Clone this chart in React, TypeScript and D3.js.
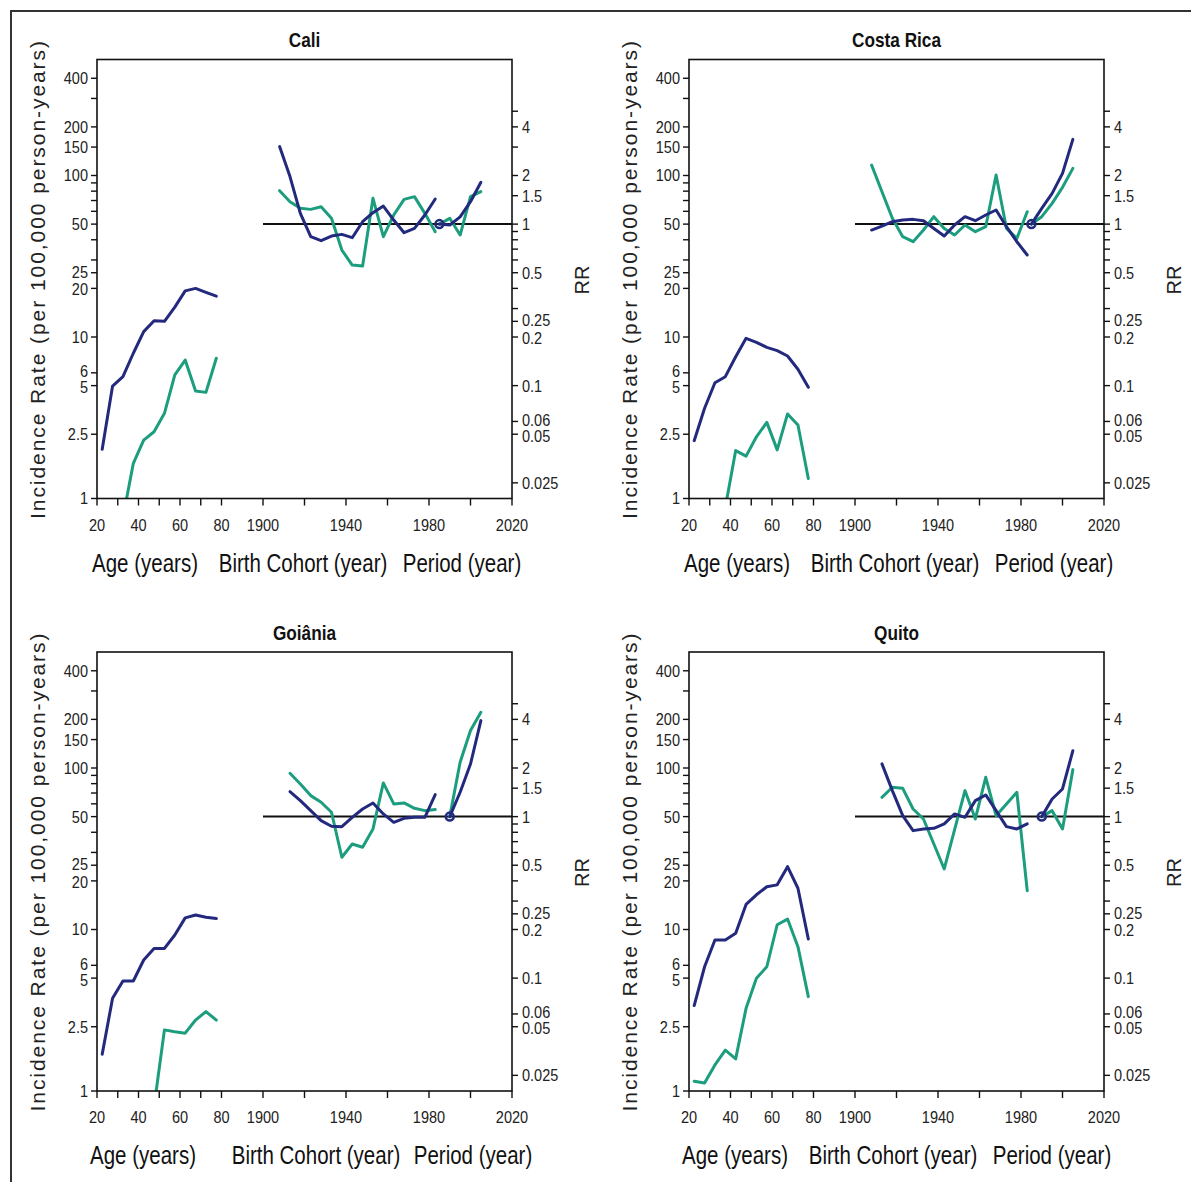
import React from "react";
import * as d3 from "d3";

// ---------- data ----------
const AGES = [22.5, 27.5, 32.5, 37.5, 42.5, 47.5, 52.5, 57.5, 62.5, 67.5, 72.5, 77.5];
const COHORTS_A = [1908, 1913, 1918, 1923, 1928, 1933, 1938, 1943, 1948, 1953, 1958, 1963, 1968, 1973, 1978, 1983];
const COHORTS_B = [1913, 1918, 1923, 1928, 1933, 1938, 1943, 1948, 1953, 1958, 1963, 1968, 1973, 1978, 1983];
const PERIODS_A = [1985, 1990, 1995, 2000, 2005];
const PERIODS_B = [1990, 1995, 2000, 2005];

const caliAgeBlue = [2.02, 4.97, 5.68, 7.93, 10.8, 12.6, 12.5, 15.3, 19.3, 20.0, 18.9, 17.9];
const caliAgeGreen = [null, null, 0.76, 1.65, 2.3, 2.59, 3.37, 5.82, 7.2, 4.63, 4.54, 7.38];
const caliCohortBlue = [3.02, 1.97, 1.166, 0.836, 0.79, 0.844, 0.864, 0.824, 1.035, 1.177, 1.294, 1.06, 0.885, 0.94, 1.139, 1.43];
const caliCohortGreen = [1.61, 1.377, 1.252, 1.234, 1.282, 1.086, 0.691, 0.558, 0.55, 1.444, 0.836, 1.139, 1.423, 1.479, 1.166, 0.898];
const caliPeriodBlue = [1, 0.986, 1.11, 1.377, 1.815];
const caliPeriodGreen = [1, 1.086, 0.856, 1.479, 1.588];

const costaAgeBlue = [2.28, 3.62, 5.21, 5.68, 7.55, 9.82, 9.27, 8.63, 8.23, 7.63, 6.31, 4.88];
const costaAgeGreen = [null, null, null, 0.88, 1.98, 1.83, 2.41, 2.96, 2.0, 3.34, 2.85, 1.33];
const costaCohortBlue = [0.919, 0.973, 1.035, 1.06, 1.07, 1.05, 0.94, 0.844, 0.987, 1.112, 1.05, 1.139, 1.223, 0.964, 0.778, 0.644];
const costaCohortGreen = [2.32, 1.588, 1.086, 0.836, 0.778, 0.919, 1.112, 0.94, 0.856, 0.987, 0.898, 0.964, 2.014, 0.94, 0.816, 1.194];
const costaPeriodBlue = [1, 1.252, 1.55, 2.062, 3.35];
const costaPeriodGreen = [1, 1.112, 1.345, 1.69, 2.214];

const goianiaAgeBlue = [1.69, 3.75, 4.8, 4.8, 6.47, 7.64, 7.64, 9.25, 11.8, 12.3, 11.9, 11.7];
const goianiaAgeGreen = [null, null, null, null, null, 0.8, 2.39, 2.33, 2.28, 2.75, 3.1, 2.75];
const goianiaCohortBlue = [1.428, 1.256, 1.089, 0.944, 0.871, 0.867, 0.99, 1.115, 1.215, 1.039, 0.922, 0.976, 0.99, 0.99, 1.368];
const goianiaCohortGreen = [1.855, 1.593, 1.349, 1.227, 1.064, 0.56, 0.677, 0.646, 0.839, 1.616, 1.198, 1.215, 1.126, 1.089, 1.105];
const goianiaPeriodBlue = [1, 1.415, 2.118, 3.93];
const goianiaPeriodGreen = [1, 2.17, 3.41, 4.43];

const quitoAgeBlue = [3.38, 5.88, 8.61, 8.61, 9.47, 14.3, 16.4, 18.4, 18.9, 24.5, 18.0, 8.73];
const quitoAgeGreen = [1.15, 1.12, 1.45, 1.79, 1.58, 3.25, 4.99, 5.88, 10.7, 11.6, 7.83, 3.84];
const quitoCohortBlue = [2.12, 1.449, 1.014, 0.819, 0.839, 0.847, 0.901, 1.039, 0.99, 1.256, 1.362, 1.089, 0.867, 0.839, 0.901];
const quitoCohortGreen = [1.317, 1.519, 1.497, 1.115, 0.967, 0.677, 0.474, 0.831, 1.449, 0.967, 1.752, 1.014, 1.198, 1.415, 0.348];
const quitoPeriodBlue = [1, 1.286, 1.483, 2.56];
const quitoPeriodGreen = [1, 1.089, 0.839, 1.954];

const LEFT_TICKS = [1, 2.5, 5, 6, 10, 20, 25, 30, 40, 50, 60, 70, 80, 90, 100, 150, 200, 300, 400];
const LEFT_LABELS = [1, 2.5, 5, 6, 10, 20, 25, 50, 100, 150, 200, 400];
const RR_TICKS = [0.025, 0.05, 0.06, 0.1, 0.2, 0.25, 0.3, 0.4, 0.5, 0.6, 0.7, 0.8, 0.9, 1, 1.5, 2, 3, 4, 5];
const RR_LABELS = [0.025, 0.05, 0.06, 0.1, 0.2, 0.25, 0.5, 1, 1.5, 2, 4];
const AGE_TICKS = [20, 30, 40, 50, 60, 70, 80];
const AGE_LABELS = [20, 40, 60, 80];
const YEAR_TICKS = [1900, 1920, 1940, 1960, 1980, 2000, 2020];
const YEAR_LABELS = [1900, 1940, 1980, 2020];
const RR_REF = 50; // rate corresponding to RR = 1
const YEAR_OFFSET = 1800; // years share the x axis with ages

// small vertical nudges for crowded tick labels (layout only)
const LABEL_NUDGE: Record<string, number> = { "6": -1.5, "5": 1.5, "25": -1, "20": 1, "0.06": -1.5, "0.05": 1.5, "0.25": -1, "0.2": 1 };

const BLUE = "#23297d";
const GREEN = "#1c9e7e";
const SANS = "'Liberation Sans', Arial, sans-serif";

type PanelSpec = {
  id: string;
  title: string;
  dx: number;
  dy: number;
  cohorts: number[];
  periods: number[];
  ageBlue: (number | null)[];
  ageGreen: (number | null)[];
  cohortBlue: number[];
  cohortGreen: number[];
  periodBlue: number[];
  periodGreen: number[];
  labelX: [number, number, number];
};

const PANELS: PanelSpec[] = [
  { id: "cali", title: "Cali", dx: 0, dy: 0, cohorts: COHORTS_A, periods: PERIODS_A,
    ageBlue: caliAgeBlue, ageGreen: caliAgeGreen, cohortBlue: caliCohortBlue, cohortGreen: caliCohortGreen,
    periodBlue: caliPeriodBlue, periodGreen: caliPeriodGreen, labelX: [145, 303, 462] },
  { id: "costa", title: "Costa Rica", dx: 592, dy: 0, cohorts: COHORTS_A, periods: PERIODS_A,
    ageBlue: costaAgeBlue, ageGreen: costaAgeGreen, cohortBlue: costaCohortBlue, cohortGreen: costaCohortGreen,
    periodBlue: costaPeriodBlue, periodGreen: costaPeriodGreen, labelX: [145, 303, 462] },
  { id: "goiania", title: "Goiânia", dx: 0, dy: 592.5, cohorts: COHORTS_B, periods: PERIODS_B,
    ageBlue: goianiaAgeBlue, ageGreen: goianiaAgeGreen, cohortBlue: goianiaCohortBlue, cohortGreen: goianiaCohortGreen,
    periodBlue: goianiaPeriodBlue, periodGreen: goianiaPeriodGreen, labelX: [143, 316, 473] },
  { id: "quito", title: "Quito", dx: 592, dy: 592.5, cohorts: COHORTS_B, periods: PERIODS_B,
    ageBlue: quitoAgeBlue, ageGreen: quitoAgeGreen, cohortBlue: quitoCohortBlue, cohortGreen: quitoCohortGreen,
    periodBlue: quitoPeriodBlue, periodGreen: quitoPeriodGreen, labelX: [143, 301, 460] },
];

// ---------- geometry ----------
const X0 = 97, X1 = 512, Y0 = 59.5, Y1 = 498.5;
const DECADE = 161.5;
const YTOP = Math.pow(10, (Y1 - Y0) / DECADE);

const fmt = (v: number) => String(v);
const nudge = (v: number) => LABEL_NUDGE[fmt(v)] || 0;

// condensed text: regular sans squeezed horizontally
function NText(props: {
  x: number; y: number; size: number; anchor?: string; bold?: boolean; fill?: string; dy?: string;
  squeeze?: number; children: React.ReactNode;
}) {
  const { x, y, size, anchor = "middle", bold = false, fill = "#222", dy, squeeze = 0.82, children } = props;
  return (
    <text
      transform={`translate(${x},${y}) scale(${squeeze},1)`}
      textAnchor={anchor}
      dy={dy}
      fontFamily={SANS}
      fontWeight={bold ? "bold" : "normal"}
      fontSize={size}
      fill={fill}
    >
      {children}
    </text>
  );
}

function Panel({ p }: { p: PanelSpec }) {
  const x = d3.scaleLinear().domain([20, 220]).range([X0, X1]);
  const y = d3.scaleLog().domain([1, YTOP]).range([Y1, Y0]);
  const rr = d3.scaleLog().domain([1 / RR_REF, YTOP / RR_REF]).range([Y1, Y0]);

  const lineAge = d3.line<[number, number | null]>()
    .defined((d) => d[1] != null)
    .x((d) => x(d[0]))
    .y((d) => y(d[1] as number));
  const lineRR = d3.line<[number, number]>()
    .x((d) => x(d[0] - YEAR_OFFSET))
    .y((d) => rr(d[1]));

  const zip = <T,>(a: number[], b: T[]) => a.map((v, i) => [v, b[i]] as [number, T]);
  const clipId = `clip-${p.id}`;
  const sw = 3;
  const tickSize = 16.5;
  const tickSq = 0.88;

  return (
    <g transform={`translate(${p.dx},${p.dy})`}>
      <defs>
        <clipPath id={clipId}>
          <rect x={X0} y={Y0} width={X1 - X0} height={Y1 - Y0} />
        </clipPath>
      </defs>
      <NText x={(X0 + X1) / 2} y={47} size={21} bold fill="#111">{p.title}</NText>
      {/* reference line RR = 1 */}
      <line x1={x(1900 - YEAR_OFFSET)} x2={X1} y1={rr(1)} y2={rr(1)} stroke="#111" strokeWidth={2} />
      <g clipPath={`url(#${clipId})`} fill="none" strokeWidth={sw} strokeLinejoin="round" strokeLinecap="round">
        <path d={lineAge(zip(AGES, p.ageGreen)) || ""} stroke={GREEN} />
        <path d={lineAge(zip(AGES, p.ageBlue)) || ""} stroke={BLUE} />
        <path d={lineRR(zip(p.cohorts, p.cohortGreen)) || ""} stroke={GREEN} />
        <path d={lineRR(zip(p.cohorts, p.cohortBlue)) || ""} stroke={BLUE} />
        <path d={lineRR(zip(p.periods, p.periodGreen)) || ""} stroke={GREEN} />
        <path d={lineRR(zip(p.periods, p.periodBlue)) || ""} stroke={BLUE} />
        <circle cx={x(p.periods[0] - YEAR_OFFSET)} cy={rr(p.periodBlue[0])} r={4} fill="none" stroke={BLUE} strokeWidth={2.5} />
      </g>
      {/* frame */}
      <rect x={X0} y={Y0} width={X1 - X0} height={Y1 - Y0} fill="none" stroke="#111" strokeWidth={1.6} />
      {/* left axis */}
      {LEFT_TICKS.map((t) => (
        <line key={`lt${t}`} x1={X0 - 6} x2={X0} y1={y(t)} y2={y(t)} stroke="#111" strokeWidth={1.4} />
      ))}
      {LEFT_LABELS.map((t) => (
        <NText key={`ll${t}`} x={X0 - 9} y={y(t) + nudge(t)} dy="0.36em" anchor="end" size={tickSize} squeeze={tickSq}>{fmt(t)}</NText>
      ))}
      {/* right axis */}
      {RR_TICKS.map((t) => (
        <line key={`rt${t}`} x1={X1} x2={X1 + 6} y1={rr(t)} y2={rr(t)} stroke="#111" strokeWidth={1.4} />
      ))}
      {RR_LABELS.map((t) => (
        <NText key={`rl${t}`} x={X1 + 10} y={rr(t) + nudge(t)} dy="0.36em" anchor="start" size={tickSize} squeeze={tickSq}>{fmt(t)}</NText>
      ))}
      {/* bottom axis */}
      {AGE_TICKS.map((t) => (
        <line key={`at${t}`} x1={x(t)} x2={x(t)} y1={Y1} y2={Y1 + 7} stroke="#111" strokeWidth={1.4} />
      ))}
      {YEAR_TICKS.map((t) => (
        <line key={`yt${t}`} x1={x(t - YEAR_OFFSET)} x2={x(t - YEAR_OFFSET)} y1={Y1} y2={Y1 + 7} stroke="#111" strokeWidth={1.4} />
      ))}
      {AGE_LABELS.map((t) => (
        <NText key={`al${t}`} x={x(t)} y={Y1 + 32} size={tickSize} squeeze={tickSq}>{fmt(t)}</NText>
      ))}
      {YEAR_LABELS.map((t) => (
        <NText key={`yl${t}`} x={x(t - YEAR_OFFSET)} y={Y1 + 32} size={tickSize} squeeze={tickSq}>{fmt(t)}</NText>
      ))}
      {/* axis titles */}
      <NText x={p.labelX[0]} y={Y1 + 73} size={25} fill="#111">Age (years)</NText>
      <NText x={p.labelX[1]} y={Y1 + 73} size={25} fill="#111">Birth Cohort (year)</NText>
      <NText x={p.labelX[2]} y={Y1 + 73} size={25} fill="#111">Period (year)</NText>
      <text transform={`translate(45,${(Y0 + Y1) / 2 + 1}) rotate(-90)`} textAnchor="middle" fontFamily={SANS} fontSize={21}
        fill="#222" textLength={478} lengthAdjust="spacing">
        Incidence Rate (per 100,000 person-years)
      </text>
      <text transform={`translate(589,280) rotate(-90)`} textAnchor="middle" fontFamily={SANS} fontSize={20} fill="#222">RR</text>
    </g>
  );
}

export default function App() {
  return (
    <svg width={1191} height={1182} style={{ position: "absolute", left: 0, top: 0, background: "#fff" }}>
      <rect x={0} y={0} width={1191} height={1182} fill="#fff" />
      <path d="M11,1182 V11 H1191" fill="none" stroke="#333" strokeWidth={2} />
      {PANELS.map((p) => (
        <Panel key={p.id} p={p} />
      ))}
    </svg>
  );
}
